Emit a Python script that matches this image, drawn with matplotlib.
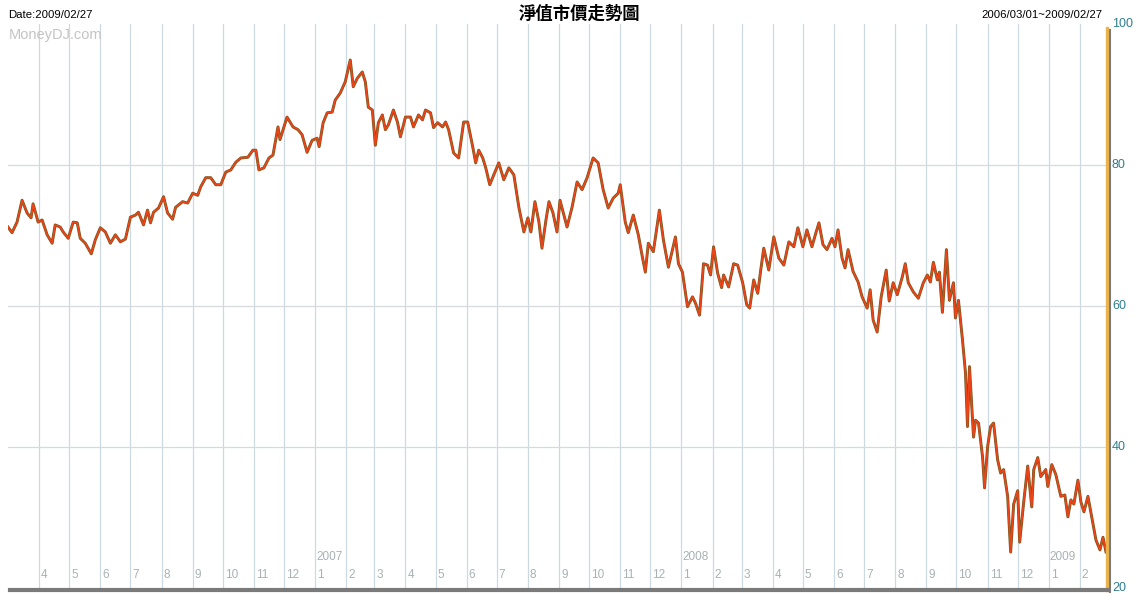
import matplotlib
matplotlib.use("Agg")
import matplotlib.pyplot as plt
import pandas as pd

plt.rcParams['font.family'] = ['Noto Sans CJK TC', 'DejaVu Sans']
LAT = "Liberation Sans"

title = "淨值市價走勢圖"
date_label = "Date:2009/02/27"
range_label = "2006/03/01~2009/02/27"
watermark = "MoneyDJ.com"
y_ticks = [20, 40, 60, 80, 100]

dates_2006 = [
    "2006-03-01", "2006-03-05", "2006-03-10", "2006-03-15", "2006-03-20", "2006-03-24",
    "2006-03-26", "2006-03-31", "2006-04-04", "2006-04-09", "2006-04-14", "2006-04-17",
    "2006-04-22", "2006-04-25", "2006-04-30", "2006-05-05", "2006-05-09", "2006-05-12",
    "2006-05-17", "2006-05-23", "2006-05-27", "2006-06-01", "2006-06-06", "2006-06-11",
    "2006-06-16", "2006-06-21", "2006-06-26", "2006-07-01", "2006-07-06", "2006-07-09",
    "2006-07-14", "2006-07-18", "2006-07-21", "2006-07-24", "2006-07-29", "2006-08-03",
    "2006-08-07", "2006-08-12", "2006-08-15", "2006-08-22", "2006-08-27", "2006-09-01",
    "2006-09-06", "2006-09-09", "2006-09-14", "2006-09-19", "2006-09-24", "2006-09-29",
    "2006-10-04", "2006-10-09", "2006-10-14", "2006-10-19", "2006-10-26", "2006-10-31",
    "2006-11-03", "2006-11-06", "2006-11-11", "2006-11-16", "2006-11-20", "2006-11-25",
    "2006-11-27", "2006-12-04", "2006-12-10", "2006-12-15", "2006-12-19", "2006-12-24",
    "2006-12-29",
]
values_2006 = [
    71.2, 70.4, 71.9, 75.0, 73.2, 72.5,
    74.5, 71.9, 72.2, 70.1, 68.9, 71.5,
    71.2, 70.5, 69.6, 71.9, 71.8, 69.6,
    68.9, 67.4, 69.4, 71.1, 70.5, 68.9,
    70.1, 69.1, 69.5, 72.6, 72.9, 73.3,
    71.5, 73.6, 71.8, 73.3, 73.9, 75.5,
    73.2, 72.3, 74.0, 74.8, 74.6, 76.0,
    75.7, 76.9, 78.2, 78.2, 77.2, 77.2,
    79.0, 79.3, 80.4, 81.0, 81.1, 82.1,
    82.1, 79.3, 79.6, 81.0, 81.4, 85.4,
    83.6, 86.8, 85.4, 85.0, 84.3, 81.8,
    83.5,
]

dates_2007 = [
    "2007-01-03", "2007-01-05", "2007-01-09", "2007-01-13", "2007-01-18", "2007-01-21",
    "2007-01-26", "2007-01-31", "2007-02-05", "2007-02-08", "2007-02-12", "2007-02-17",
    "2007-02-20", "2007-02-23", "2007-02-27", "2007-03-02", "2007-03-05", "2007-03-09",
    "2007-03-12", "2007-03-15", "2007-03-20", "2007-03-24", "2007-03-27", "2007-04-01",
    "2007-04-06", "2007-04-09", "2007-04-14", "2007-04-18", "2007-04-21", "2007-04-26",
    "2007-04-29", "2007-05-03", "2007-05-08", "2007-05-11", "2007-05-14", "2007-05-19",
    "2007-05-24", "2007-05-29", "2007-06-02", "2007-06-07", "2007-06-10", "2007-06-13",
    "2007-06-17", "2007-06-20", "2007-06-24", "2007-06-28", "2007-07-03", "2007-07-08",
    "2007-07-13", "2007-07-18", "2007-07-23", "2007-07-28", "2007-08-01", "2007-08-04",
    "2007-08-08", "2007-08-12", "2007-08-15", "2007-08-19", "2007-08-22", "2007-08-26",
    "2007-08-30", "2007-09-02", "2007-09-09", "2007-09-14", "2007-09-19", "2007-09-24",
    "2007-09-29", "2007-10-05", "2007-10-10", "2007-10-15", "2007-10-20", "2007-10-25",
    "2007-10-30", "2007-11-01", "2007-11-06", "2007-11-09", "2007-11-14", "2007-11-19",
    "2007-11-23", "2007-11-26", "2007-11-29", "2007-12-04", "2007-12-10", "2007-12-14",
    "2007-12-19", "2007-12-26", "2007-12-29",
]
values_2007 = [
    83.8, 82.6, 86.0, 87.4, 87.5, 89.2,
    90.2, 91.8, 94.9, 91.1, 92.3, 93.2,
    91.8, 88.2, 87.8, 82.8, 86.0, 87.1,
    85.0, 85.7, 87.8, 86.1, 84.0, 86.8,
    86.8, 85.4, 87.1, 86.4, 87.8, 87.4,
    85.3, 86.0, 85.4, 86.1, 85.0, 81.7,
    81.0, 86.1, 86.1, 82.6, 80.3, 82.1,
    81.0, 79.6, 77.2, 78.6, 80.3, 77.9,
    79.6, 78.6, 74.0, 70.5, 72.5, 70.5,
    74.8, 71.9, 68.2, 72.2, 74.8, 73.2,
    70.5, 75.0, 71.2, 74.0, 77.6, 76.5,
    78.2, 81.0, 80.3, 76.5, 73.9, 75.3,
    76.0, 77.2, 71.9, 70.4, 72.9, 70.1,
    67.0, 64.8, 68.9, 67.7, 73.6, 69.4,
    65.5, 69.8, 66.0,
]

dates_2008 = [
    "2008-01-02", "2008-01-07", "2008-01-12", "2008-01-15", "2008-01-19", "2008-01-23",
    "2008-01-27", "2008-01-30", "2008-02-02", "2008-02-06", "2008-02-10", "2008-02-12",
    "2008-02-17", "2008-02-22", "2008-02-26", "2008-03-02", "2008-03-06", "2008-03-09",
    "2008-03-13", "2008-03-17", "2008-03-20", "2008-03-23", "2008-03-28", "2008-04-02",
    "2008-04-07", "2008-04-12", "2008-04-17", "2008-04-22", "2008-04-26", "2008-05-01",
    "2008-05-05", "2008-05-10", "2008-05-14", "2008-05-17", "2008-05-21", "2008-05-25",
    "2008-05-30", "2008-06-02", "2008-06-05", "2008-06-09", "2008-06-12", "2008-06-15",
    "2008-06-20", "2008-06-25", "2008-06-29", "2008-07-04", "2008-07-07", "2008-07-10",
    "2008-07-14", "2008-07-18", "2008-07-23", "2008-07-26", "2008-07-30", "2008-08-03",
    "2008-08-08", "2008-08-11", "2008-08-14", "2008-08-19", "2008-08-24", "2008-08-29",
    "2008-09-02", "2008-09-05", "2008-09-08", "2008-09-12", "2008-09-14", "2008-09-17",
    "2008-09-21", "2008-09-24", "2008-09-28", "2008-09-30", "2008-10-03", "2008-10-07",
    "2008-10-10", "2008-10-12", "2008-10-14", "2008-10-18", "2008-10-20", "2008-10-23",
    "2008-10-27", "2008-10-29", "2008-11-01", "2008-11-04", "2008-11-07", "2008-11-11",
    "2008-11-14", "2008-11-17", "2008-11-21", "2008-11-24", "2008-11-27", "2008-12-01",
    "2008-12-03", "2008-12-07", "2008-12-11", "2008-12-15", "2008-12-17", "2008-12-21",
    "2008-12-24", "2008-12-29", "2008-12-31",
]
values_2008 = [
    64.8, 59.9, 61.3, 60.4, 58.7, 66.0,
    65.8, 64.4, 68.4, 64.7, 62.6, 64.4,
    62.7, 66.0, 65.8, 63.3, 60.2, 59.7,
    63.7, 61.8, 65.1, 68.2, 65.1, 69.8,
    66.8, 65.8, 69.1, 68.4, 71.1, 68.4,
    70.8, 68.4, 70.4, 71.8, 68.7, 68.0,
    69.6, 68.4, 70.8, 66.8, 65.4, 68.0,
    64.9, 63.4, 61.3, 59.7, 62.3, 58.0,
    56.3, 61.3, 65.1, 60.7, 63.3, 61.6,
    64.1, 66.0, 63.3, 62.0, 61.1, 63.3,
    64.4, 63.4, 66.2, 63.7, 64.8, 59.1,
    68.0, 60.8, 63.3, 58.3, 60.8, 55.2,
    50.5, 42.9, 51.4, 41.4, 43.8, 43.4,
    38.6, 34.2, 40.0, 42.9, 43.4, 38.2,
    36.3, 36.8, 33.0, 25.1, 31.9, 33.8,
    26.5, 32.2, 37.3, 31.5, 36.8, 38.5,
    35.8, 36.8, 34.4,
]

dates_2009 = [
    "2009-01-04", "2009-01-08", "2009-01-13", "2009-01-17", "2009-01-20", "2009-01-23",
    "2009-01-26", "2009-01-30", "2009-02-02", "2009-02-05", "2009-02-09", "2009-02-12",
    "2009-02-17", "2009-02-21", "2009-02-24", "2009-02-27",
]
values_2009 = [
    37.5, 36.1, 33.0, 33.2, 30.1, 32.5,
    31.9, 35.3, 32.2, 30.8, 33.0, 30.7,
    26.8, 25.4, 27.2, 25.1,
]

series = pd.Series(
    values_2006 + values_2007 + values_2008 + values_2009,
    index=pd.to_datetime(dates_2006 + dates_2007 + dates_2008 + dates_2009),
)

start = pd.Timestamp("2006-03-01")
end = pd.Timestamp("2009-02-27")
month_starts = pd.date_range("2006-04-01", "2009-02-01", freq="MS")

W, H = 1136, 595
fig = plt.figure(figsize=(W / 100, H / 100), dpi=100)
fig.patch.set_facecolor("white")
ax = fig.add_axes([8 / W, (H - 588) / H, (1106 - 8) / W, (588 - 24) / H])
ax.set_facecolor("white")

# grids
grid_v = "#cdd9e0"
for m in month_starts:
    ax.axvline(m, color=grid_v, lw=0.9, zorder=1)
for yv in [40, 60, 80]:
    ax.axhline(yv, color="#d6dadc", lw=0.9, zorder=1)

# month labels
lab_col = "#a8b2b2"
for m in month_starts:
    ax.text(m + pd.Timedelta(days=2), 21.0, str(m.month), fontsize=8.5,
            color=lab_col, ha="left", va="bottom", zorder=2, family=LAT)
    if m.month == 1:
        ax.text(m + pd.Timedelta(days=1), 23.6, str(m.year), fontsize=8.5,
                color=lab_col, ha="left", va="bottom", zorder=2, family=LAT)

# data line
ax.plot(series.index, series.values, color="#6a5a22", lw=2.1, zorder=3,
        solid_joinstyle="round")
ax.plot(series.index, series.values, color="#ea4418", lw=1.3, zorder=4,
        solid_joinstyle="round")

ax.set_xlim(start, end)
ax.set_ylim(20, 100)
ax.set_xticks([])
ax.set_yticks([])
for s in ax.spines.values():
    s.set_visible(False)

# right edge lines
fig.add_artist(plt.Line2D([1106.5 / W, 1106.5 / W], [(H - 590) / H, (H - 28) / H],
                          transform=fig.transFigure, color="#ebb34a", lw=2.4))
fig.add_artist(plt.Line2D([1109.5 / W, 1109.5 / W], [(H - 592) / H, (H - 30) / H],
                          transform=fig.transFigure, color="#7a7a7a", lw=1.5))
# bottom axis line
fig.add_artist(plt.Line2D([10 / W, 1108 / W], [(H - 590) / H, (H - 590) / H],
                          transform=fig.transFigure, color="#7a7a7a", lw=3))

# right tick labels
for yv in y_ticks:
    fig.text(1112 / W, ax.get_position().y0 + (yv - 20) / 80 * ax.get_position().height,
             str(yv), fontsize=9, color="#2e7f8f", ha="left", va="center", family=LAT)

# header texts
fig.text(8 / W, 1 - 15 / H, date_label, fontsize=8.2, color="black", ha="left",
         va="center", family=LAT)
fig.text(1103 / W, 1 - 15 / H, range_label, fontsize=8.2, color="black", ha="right",
         va="center", family=LAT)
fig.text(580 / W, 1 - 14 / H, title, fontsize=12.5, fontweight="bold", color="black",
         ha="center", va="center")
fig.text(9 / W, 1 - 35 / H, watermark, fontsize=10.5, color="#c4c4c4", ha="left",
         va="center", family=LAT)

fig.savefig("out.png", dpi=100, facecolor="white")
